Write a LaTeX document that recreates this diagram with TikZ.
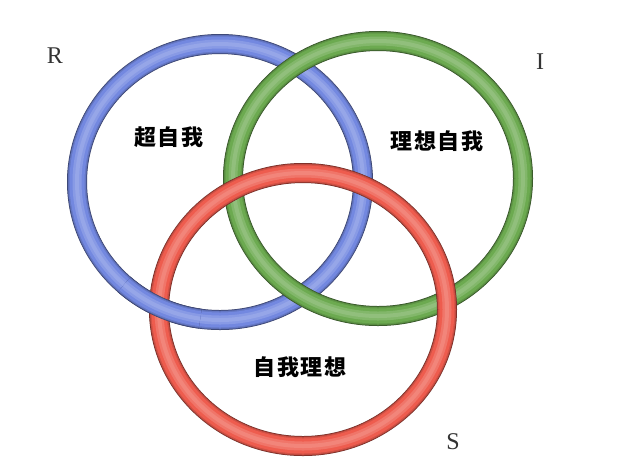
\documentclass[tikz,border=0pt]{standalone}
\usepackage{fontspec}
\setmainfont{Liberation Serif}
\newfontfamily\cjk{Noto Sans CJK SC}
\definecolor{bluemain}{HTML}{7388E0}
\definecolor{greenmain}{HTML}{6CAA50}
\definecolor{redmain}{HTML}{EE5C4E}
\definecolor{lettergray}{HTML}{333333}
\tikzset{
  cjklabel/.style={font=\cjk\bfseries\fontsize{22}{24}\selectfont\addfontfeatures{LetterSpace=8}, text=black, inner sep=0pt},
  ringletter/.style={font=\fontsize{24}{26}\selectfont, text=lettergray, inner sep=0pt}
}
\begin{document}
\begin{tikzpicture}[x=1pt,y=-1pt]
\useasboundingbox[fill=white] (0,0) rectangle (620,475);
% blue ring (R)
\foreach \w/\c in {20/bluemain!45!black, 19/bluemain!70!black, 17.5/bluemain!88!black, 15/bluemain, 9/bluemain!85!white, 4/bluemain!75!white}
  \draw[line width=\w pt, \c] (220,182) ellipse [x radius=143, y radius=138];
% green ring (I)
\foreach \w/\c in {20/greenmain!45!black, 19/greenmain!70!black, 17.5/greenmain!88!black, 15/greenmain, 9/greenmain!85!white, 4/greenmain!75!white}
  \draw[line width=\w pt, \c] (378,178.5) ellipse [x radius=145, y radius=137.5];
% red ring (S)
\foreach \w/\c in {20/redmain!45!black, 19/redmain!70!black, 17.5/redmain!88!black, 15/redmain, 9/redmain!85!white, 4/redmain!75!white}
  \draw[line width=\w pt, \c] (303,309.5) ellipse [x radius=144, y radius=136.5];
% blue passes over red at lower left
\foreach \w/\c in {20/bluemain!45!black, 19/bluemain!70!black, 17.5/bluemain!88!black, 15/bluemain, 9/bluemain!85!white, 4/bluemain!75!white}
  \draw[line width=\w pt, \c] (220,182) ++(98:143 and 138) arc[start angle=98, end angle=132, x radius=143, y radius=138];
% labels
\node[cjklabel] (superego) at (169,137) {超自我};
\node[cjklabel] (idealego) at (437,141) {理想自我};
\node[cjklabel] (egoideal) at (300,367) {自我理想};
\node[ringletter] (R) at (55,56) {R};
\node[ringletter] (I) at (540,62) {I};
\node[ringletter] (S) at (453,442) {S};
\end{tikzpicture}
\end{document}
